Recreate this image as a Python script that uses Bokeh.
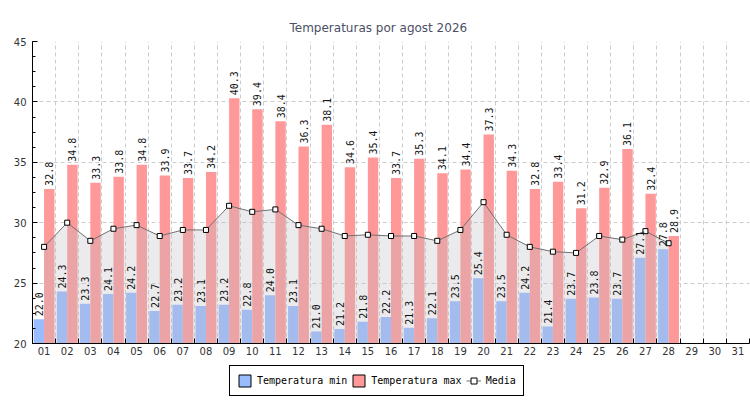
import math
from bokeh.plotting import figure
from bokeh.layouts import column
from bokeh.models import (ColumnDataSource, FixedTicker, SingleIntervalTicker,
                          Range1d, Legend, LegendItem)
from bokeh.transform import dodge
from bokeh.core.properties import value
from bokeh.embed import file_html
from bokeh.resources import INLINE

title_text = "Temperaturas por agost 2026"
days = [f"{d:02d}" for d in range(1, 32)]
temp_min = [22.0, 24.3, 23.3, 24.1, 24.2, 22.7, 23.2, 23.1, 23.2, 22.8,
            24.0, 23.1, 21.0, 21.2, 21.8, 22.2, 21.3, 22.1, 23.5, 25.4,
            23.5, 24.2, 21.4, 23.7, 23.8, 23.7, 27.1, 27.8]
temp_max = [32.8, 34.8, 33.3, 33.8, 34.8, 33.9, 33.7, 34.2, 40.3, 39.4,
            38.4, 36.3, 38.1, 34.6, 35.4, 33.7, 35.3, 34.1, 34.4, 37.3,
            34.3, 32.8, 33.4, 31.2, 32.9, 36.1, 32.4, 28.9]
media = [28.0, 30.0, 28.5, 29.5, 29.8, 28.9, 29.4, 29.4, 31.4, 30.9,
         31.1, 29.8, 29.5, 28.9, 29.0, 28.9, 28.9, 28.5, 29.4, 31.7,
         29.0, 28.0, 27.6, 27.5, 28.9, 28.6, 29.3, 28.3]
series_names = ["Temperatura min", "Temperatura max", "Media"]

n = len(temp_min)
day_num = list(range(1, n + 1))
all_days = list(range(1, len(days) + 1))

src = ColumnDataSource(dict(
    x=day_num, tmin=temp_min, tmax=temp_max, media=media,
    lmin=[f"{v:.1f}" for v in temp_min],
    lmax=[f"{v:.1f}" for v in temp_max],
))

BLUE = "#99bbff"
RED = "#ff9999"
MONO = "DejaVu Sans Mono"
SANS = "DejaVu Sans"

p = figure(width=750, height=362,
           x_range=Range1d(0.5, len(days) + 0.5), y_range=Range1d(20, 45),
           output_backend="svg", toolbar_location=None, title=title_text)
p.min_border_left = 32
p.min_border_right = 1
p.min_border_top = 41
p.min_border_bottom = 19
p.outline_line_color = None
p.background_fill_color = "white"
p.border_fill_color = "white"

p.title.align = "left"
p.title.offset = 257
p.title.standoff = 14
p.title.text_font = SANS
p.title.text_font_size = "12px"
p.title.text_font_style = "normal"
p.title.text_color = "#4a5066"

# bars
p.vbar(x=dodge('x', -0.225), top='tmin', bottom=20, width=0.45, source=src,
       fill_color=BLUE, line_color=None)
p.vbar(x=dodge('x', 0.225), top='tmax', bottom=20, width=0.45, source=src,
       fill_color=RED, line_color=None)

# media area + line + markers
p.varea(x='x', y1=20, y2='media', source=src, fill_color="#bebec3", fill_alpha=0.3)
p.line('x', 'media', source=src, line_color="#707070", line_width=1)
p.scatter('x', 'media', source=src, marker='square', size=5,
          fill_color='white', line_color='black', line_width=1)

# value labels
for col, lab, off in (('tmin', 'lmin', -0.225), ('tmax', 'lmax', 0.225)):
    p.text(x=dodge('x', off), y=col, text=lab, source=src, angle=math.pi / 2,
           text_align='left', text_baseline='middle', y_offset=-3,
           text_font=value(MONO), text_font_size="10px", text_color="#111111")

# axes
p.yaxis.ticker = SingleIntervalTicker(interval=5, num_minor_ticks=4)
p.yaxis.major_tick_in = 5
p.yaxis.major_tick_out = 0
p.yaxis.minor_tick_in = 3
p.yaxis.minor_tick_out = 0
p.yaxis.axis_line_color = "black"
p.yaxis.major_tick_line_color = "black"
p.yaxis.minor_tick_line_color = "black"
p.yaxis.major_label_standoff = 6
p.yaxis.major_label_text_font = SANS
p.yaxis.major_label_text_font_size = "10px"
p.yaxis.major_label_text_color = "#333333"

p.xaxis.ticker = FixedTicker(ticks=all_days,
                             minor_ticks=[d - 0.5 for d in all_days] + [len(days) + 0.5])
p.xaxis.major_label_overrides = {d: days[d - 1] for d in all_days}
p.xaxis.major_tick_in = 0
p.xaxis.major_tick_out = 0
p.xaxis.minor_tick_in = 5
p.xaxis.minor_tick_out = 0
p.xaxis.axis_line_color = "black"
p.xaxis.minor_tick_line_color = "black"
p.xaxis.major_label_standoff = 3
p.xaxis.major_label_text_font = SANS
p.xaxis.major_label_text_font_size = "10px"
p.xaxis.major_label_text_color = "#333333"

# grids
p.ygrid.grid_line_color = "#cccccc"
p.ygrid.grid_line_dash = "4 3"
p.xgrid.ticker = FixedTicker(ticks=[d + 0.5 for d in all_days])
p.xgrid.grid_line_color = "#cccccc"
p.xgrid.grid_line_dash = "4 3"

# legend strip (separate figure; hidden renderers carry the legend styling)
lp = figure(width=750, height=38, x_range=Range1d(0, 1), y_range=Range1d(0, 1),
            x_axis_type=None, y_axis_type=None,
            output_backend="svg", toolbar_location=None)
lp.min_border_left = 0
lp.min_border_right = 0
lp.min_border_top = 0
lp.min_border_bottom = 0
lp.outline_line_color = None
lp.background_fill_color = "white"
lp.border_fill_color = "white"

r_min = lp.vbar(x='x', top='tmin', bottom=20, width=0.45, source=src,
                fill_color=BLUE, line_color="black", visible=False)
r_max = lp.vbar(x='x', top='tmax', bottom=20, width=0.45, source=src,
                fill_color=RED, line_color="black", visible=False)
r_ln = lp.line(x='x', y='media', source=src, line_color="#707070", line_width=1,
               visible=False)
r_mk = lp.scatter(x='x', y='media', source=src, marker='square', size=5,
                  fill_color='white', line_color='black', visible=False)
legend = Legend(items=[LegendItem(label=series_names[0], renderers=[r_min]),
                       LegendItem(label=series_names[1], renderers=[r_max]),
                       LegendItem(label=series_names[2], renderers=[r_ln, r_mk])],
                orientation="horizontal", location=(197, 4), margin=0,
                padding=7, spacing=4, glyph_width=15, glyph_height=15,
                label_height=15,
                label_standoff=5, label_text_font=MONO, label_text_font_size="10px",
                label_text_color="black", border_line_color="black",
                border_line_width=1, border_line_alpha=1.0,
                background_fill_color="white", background_fill_alpha=1.0,
                inactive_fill_alpha=0.0, click_policy="none")
lp.add_layout(legend, 'center')

open("out.html", "w").write(file_html(column(p, lp, spacing=0), INLINE))
